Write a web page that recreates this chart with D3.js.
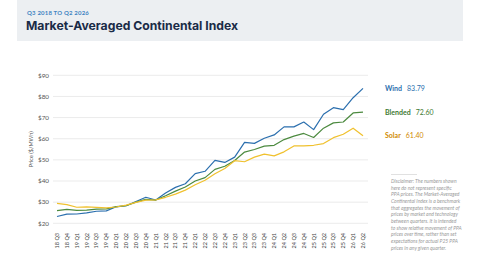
<!DOCTYPE html>
<html>
<head>
<meta charset="utf-8">
<script src="https://cdn.jsdelivr.net/npm/d3@7"></script>
<style>
  html, body { margin: 0; padding: 0; background: #fff; }
  svg { display: block; font-family: Lato, "Open Sans", sans-serif; }
</style>
</head>
<body>
<div id="chart"></div>
<script>
// =========================
// DATA
// =========================
const quarters = [
  "18 Q3", "18 Q4", "19 Q1", "19 Q2", "19 Q3", "19 Q4", "20 Q1", "20 Q2",
  "20 Q3", "20 Q4", "21 Q1", "21 Q2", "21 Q3", "21 Q4", "22 Q1", "22 Q2",
  "22 Q3", "22 Q4", "23 Q1", "23 Q2", "23 Q3", "23 Q4", "24 Q1", "24 Q2",
  "24 Q3", "24 Q4", "25 Q1", "25 Q2", "25 Q3", "25 Q4", "26 Q1", "26 Q2"
];
const wind = [
  23.2, 24.3, 24.4, 24.9, 25.7, 25.9, 27.8, 28.3,
  30.3, 32.3, 31.0, 34.3, 37.0, 38.7, 43.5, 44.6,
  49.8, 48.8, 51.3, 58.3, 57.8, 60.2, 61.8, 65.6,
  65.6, 67.9, 64.3, 71.6, 74.7, 73.8, 79.4, 83.79
];
const blended = [
  26.0, 26.6, 26.1, 26.2, 26.7, 26.8, 27.9, 28.3,
  30.0, 31.3, 31.0, 33.0, 35.2, 37.2, 40.0, 41.6,
  45.5, 47.0, 49.7, 53.7, 54.9, 56.5, 56.9, 59.6,
  61.2, 62.5, 60.6, 65.0, 67.5, 67.9, 72.2, 72.60
];
const solar = [
  29.4, 28.8, 27.6, 27.8, 27.5, 27.3, 27.7, 28.6,
  29.9, 31.0, 31.1, 32.3, 33.8, 35.7, 38.2, 40.4,
  43.4, 45.9, 49.6, 49.1, 51.3, 52.7, 51.9, 53.8,
  56.6, 56.6, 56.9, 57.7, 60.5, 62.1, 65.0, 61.40
];
const yTicks = [20, 30, 40, 50, 60, 70, 80, 90];
const disclaimer = [
  "Disclaimer: The numbers shown",
  "here do not represent specific",
  "PPA prices. The Market-Averaged",
  "Continental Index is a benchmark",
  "that aggregates the movement of",
  "prices by market and technology",
  "between quarters. It is intended",
  "to show relative movement of PPA",
  "prices over time, rather than set",
  "expectations for actual P25 PPA",
  "prices in any given quarter."
];

const series = [
  { name: "Wind", values: wind, line: "#2b6fae", label: "#2b6fae" },
  { name: "Blended", values: blended, line: "#4c8a3f", label: "#3f7a33" },
  { name: "Solar", values: solar, line: "#f0c12e", label: "#d08a00" }
];

const W = 480, H = 270;
const svg = d3.select("#chart").append("svg")
  .attr("width", W).attr("height", H);

// =========================
// HEADER
// =========================
svg.append("rect")
  .attr("x", 17).attr("y", 0).attr("width", 446).attr("height", 41)
  .attr("fill", "#eceff2");

svg.append("text")
  .attr("x", 27).attr("y", 15)
  .style("font-size", "6px").style("font-weight", "bold")
  .style("letter-spacing", "0.2px")
  .attr("fill", "#3f84c2")
  .text("Q3 2018 TO Q2 2026");

svg.append("text")
  .attr("x", 26).attr("y", 30)
  .style("font-family", "Inter, Lato, sans-serif")
  .style("font-size", "12.2px").style("font-weight", "bold")
  .attr("fill", "#1a2b47")
  .text("Market-Averaged Continental Index");

// =========================
// SCALES
// =========================
const x = d3.scalePoint().domain(quarters).range([57, 363]);
const y = d3.scaleLinear().domain([20, 90]).range([223.3, 75.3]);

// grid + y labels
const grid = svg.append("g");
yTicks.forEach(t => {
  grid.append("line")
    .attr("x1", 53).attr("x2", 368)
    .attr("y1", y(t)).attr("y2", y(t))
    .attr("stroke", "#e6e6e6").attr("stroke-width", 0.8);
  grid.append("text")
    .attr("x", 49).attr("y", y(t) + 2.2)
    .attr("text-anchor", "end")
    .style("font-size", "6.3px")
    .attr("fill", "#555")
    .text("$" + t);
});

svg.append("text")
  .attr("transform", `translate(33, ${y(55)}) rotate(-90)`)
  .attr("text-anchor", "middle")
  .style("font-size", "5.5px")
  .attr("fill", "#555")
  .text("Price ($/MWh)");

// x labels
svg.append("g").selectAll("text")
  .data(quarters)
  .enter().append("text")
  .attr("transform", d => `translate(${x(d) + 2}, 233) rotate(-90)`)
  .attr("text-anchor", "end")
  .style("font-size", "5.5px")
  .attr("fill", "#444")
  .text(d => d);

// =========================
// LINES
// =========================
const line = d3.line()
  .x((d, i) => x(quarters[i]))
  .y(d => y(d));

series.forEach(s => {
  svg.append("path")
    .datum(s.values)
    .attr("fill", "none")
    .attr("stroke", s.line)
    .attr("stroke-width", 1.2)
    .attr("stroke-linejoin", "round")
    .attr("d", line);

  const last = s.values[s.values.length - 1];
  const t = svg.append("text")
    .attr("x", 385)
    .attr("y", y(last) + 2.5)
    .style("font-size", "7px")
    .attr("fill", s.label);
  t.append("tspan").style("font-weight", "bold").text(s.name);
  t.append("tspan").attr("dx", 5).text(last.toFixed(2));
});

// =========================
// DISCLAIMER
// =========================
svg.append("line")
  .attr("x1", 391).attr("x2", 417)
  .attr("y1", 174.5).attr("y2", 174.5)
  .attr("stroke", "#ccc").attr("stroke-width", 0.6);

svg.append("g").selectAll("text")
  .data(disclaimer)
  .enter().append("text")
  .attr("x", 391)
  .attr("y", (d, i) => 183 + i * 6.67)
  .style("font-size", "5px")
  .style("font-style", "italic")
  .attr("fill", "#9a9a9a")
  .text(d => d);
</script>
</body>
</html>
